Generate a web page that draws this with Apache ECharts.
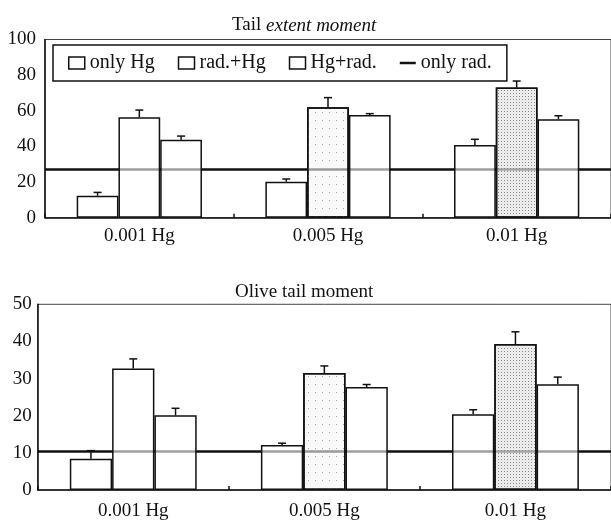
<!DOCTYPE html>
<html>
<head>
<meta charset="utf-8">
<script src="https://cdn.jsdelivr.net/npm/echarts@6/dist/echarts.min.js"></script>
<style>html,body{margin:0;padding:0;background:#fff;}#c{width:611px;height:521px;}</style>
</head>
<body>
<div id="c"></div>
<script>
// ---- data ----
var categories = ['0.001 Hg', '0.005 Hg', '0.01 Hg'];
var seriesNames = ['only Hg', 'rad.+Hg', 'Hg+rad.', 'only rad.'];

// Tail extent moment (top)
var tailOnlyHg = [12.3, 20.2, 40.8];
var tailOnlyHgErr = [1.9, 1.5, 3.2];
var tailRadHg = [56.3, 62.0, 73.0];
var tailRadHgErr = [4.1, 5.4, 3.7];
var tailHgRad = [43.8, 57.6, 55.2];
var tailHgRadErr = [2.0, 0.8, 2.0];
var tailOnlyRad = 27.2;

// Olive tail moment (bottom)
var oliveOnlyHg = [8.4, 12.1, 20.4];
var oliveOnlyHgErr = [2.2, 0.5, 1.2];
var oliveRadHg = [32.7, 31.5, 39.3];
var oliveRadHgErr = [2.6, 1.9, 3.3];
var oliveHgRad = [20.1, 27.7, 28.5];
var oliveHgRadErr = [1.9, 0.7, 1.9];
var oliveOnlyRad = 10.5;

var topTicks = {min: 0, max: 100, interval: 20};
var bottomTicks = {min: 0, max: 50, interval: 10};

// ---- styling ----
var FONT = 'Liberation Serif';
var INK = '#111';
var GAP = 0.336;
var whiteFill = 'rgba(255,255,255,0.6)';
var radFills = [
  {color: whiteFill},
  {color: 'rgba(246,246,246,0.6)', decal: {symbol: 'rect', symbolSize: 1, color: '#a8a8a8', dashArrayX: [1, 6], dashArrayY: [1, 7]}},
  {color: 'rgba(228,228,228,0.7)', decal: {symbol: 'rect', symbolSize: 1, color: '#8a8a8a', dashArrayX: [1, 2], dashArrayY: [1, 2]}}
];

function barSeries(name, values, gi) {
  return {
    name: name, type: 'bar', xAxisIndex: gi, yAxisIndex: gi,
    barGap: '0%', barCategoryGap: (GAP * 100) + '%', z: 3,
    itemStyle: {color: whiteFill, borderColor: INK, borderWidth: 1.5},
    data: values.map(function (v, i) {
      if (name === 'rad.+Hg') {
        return {value: v, itemStyle: radFills[i]};
      }
      return v;
    })
  };
}

function errSeries(lists, gi) {
  var data = [];
  lists.forEach(function (l, s) {
    l.vals.forEach(function (v, i) { data.push([i, v, l.errs[i], s]); });
  });
  return {
    type: 'custom', xAxisIndex: gi, yAxisIndex: gi, z: 4, silent: true,
    data: data,
    encode: {x: 0, y: 1},
    renderItem: function (params, api) {
      var ci = api.value(0), v = api.value(1), e = api.value(2), s = api.value(3);
      var band = api.size([1, 0])[0];
      var bw = band * (1 - GAP) / 3;
      var base = api.coord([ci, v]);
      var top = api.coord([ci, v + e]);
      var x = base[0] + (s - 1) * bw;
      var cap = 4;
      return {
        type: 'group',
        children: [
          {type: 'line', shape: {x1: x, y1: base[1], x2: x, y2: top[1]}, style: {stroke: INK, lineWidth: 1.5}},
          {type: 'line', shape: {x1: x - cap, y1: top[1], x2: x + cap, y2: top[1]}, style: {stroke: INK, lineWidth: 1.5}}
        ]
      };
    }
  };
}

function refSeries(value, gi) {
  return {
    name: 'only rad.', type: 'line', xAxisIndex: gi, yAxisIndex: gi, z: 1,
    symbol: 'none', showSymbol: false, color: INK, lineStyle: {color: INK, width: 2.5},
    data: [],
    markLine: {
      silent: true, symbol: 'none', z: 1, label: {show: false},
      lineStyle: {color: INK, width: 2.5, type: 'solid'},
      data: [{yAxis: value}]
    }
  };
}

function xAxis(gi, margin) {
  return {
    type: 'category', gridIndex: gi, data: categories,
    axisLine: {lineStyle: {color: INK, width: 1.5}},
    axisTick: {show: true, inside: true, length: 4, interval: 0, lineStyle: {color: INK, width: 1.5}},
    axisLabel: {fontFamily: FONT, fontSize: 19, color: INK, margin: margin, interval: 0},
    splitLine: {show: false}
  };
}

function yAxis(gi, ticks, margin) {
  return {
    type: 'value', gridIndex: gi, min: ticks.min, max: ticks.max, interval: ticks.interval,
    axisLine: {show: true, lineStyle: {color: INK, width: 1.5}},
    axisTick: {show: false},
    axisLabel: {fontFamily: FONT, fontSize: 19, color: INK, margin: margin},
    splitLine: {show: false}
  };
}

var option = {
  animation: false,
  backgroundColor: '#fff',
  title: [
    {text: '{n|Tail }{i|extent moment}', left: 227, top: 11,
     textStyle: {fontWeight: 'normal', rich: {
       n: {fontFamily: FONT, fontSize: 19, fontWeight: 'normal', color: INK},
       i: {fontFamily: FONT, fontSize: 19, fontWeight: 'normal', fontStyle: 'italic', color: INK}}}},
    {text: 'Olive tail moment', left: 230, top: 278,
     textStyle: {fontFamily: FONT, fontSize: 19, fontWeight: 'normal', color: INK}}
  ],
  legend: {
    left: 53, top: 45, padding: [8, 15, 8, 15], itemGap: 23, itemWidth: 16, itemHeight: 12,
    symbolKeepAspect: true,
    backgroundColor: '#fff', borderColor: INK, borderWidth: 1.5,
    textStyle: {fontFamily: FONT, fontSize: 20, color: INK},
    data: [
      {name: 'only Hg', icon: 'rect', itemStyle: {color: '#fff', borderColor: INK, borderWidth: 1.5}},
      {name: 'rad.+Hg', icon: 'rect', itemStyle: {color: '#fff', borderColor: INK, borderWidth: 1.5}},
      {name: 'Hg+rad.', icon: 'rect', itemStyle: {color: '#fff', borderColor: INK, borderWidth: 1.5}},
      {name: 'only rad.', icon: 'path://M0,0H16V2.5H0Z', itemStyle: {color: INK, borderWidth: 0}}
    ]
  },
  grid: [
    {left: 45, top: 39.5, width: 569, height: 178.2, show: true, borderColor: '#444', borderWidth: 1, backgroundColor: 'transparent'},
    {left: 37.7, top: 304.3, width: 577, height: 186.4, show: true, borderColor: '#444', borderWidth: 1, backgroundColor: 'transparent'}
  ],
  xAxis: [xAxis(0, 9), xAxis(1, 12)],
  yAxis: [yAxis(0, topTicks, 9), yAxis(1, bottomTicks, 6)],
  series: [
    refSeries(tailOnlyRad, 0),
    barSeries('only Hg', tailOnlyHg, 0),
    barSeries('rad.+Hg', tailRadHg, 0),
    barSeries('Hg+rad.', tailHgRad, 0),
    errSeries([{vals: tailOnlyHg, errs: tailOnlyHgErr}, {vals: tailRadHg, errs: tailRadHgErr}, {vals: tailHgRad, errs: tailHgRadErr}], 0),
    refSeries(oliveOnlyRad, 1),
    barSeries('only Hg', oliveOnlyHg, 1),
    barSeries('rad.+Hg', oliveRadHg, 1),
    barSeries('Hg+rad.', oliveHgRad, 1),
    errSeries([{vals: oliveOnlyHg, errs: oliveOnlyHgErr}, {vals: oliveRadHg, errs: oliveRadHgErr}, {vals: oliveHgRad, errs: oliveHgRadErr}], 1)
  ]
};

var chart = echarts.init(document.getElementById('c'), null, {renderer: 'canvas'});
chart.setOption(option);
</script>
</body>
</html>
